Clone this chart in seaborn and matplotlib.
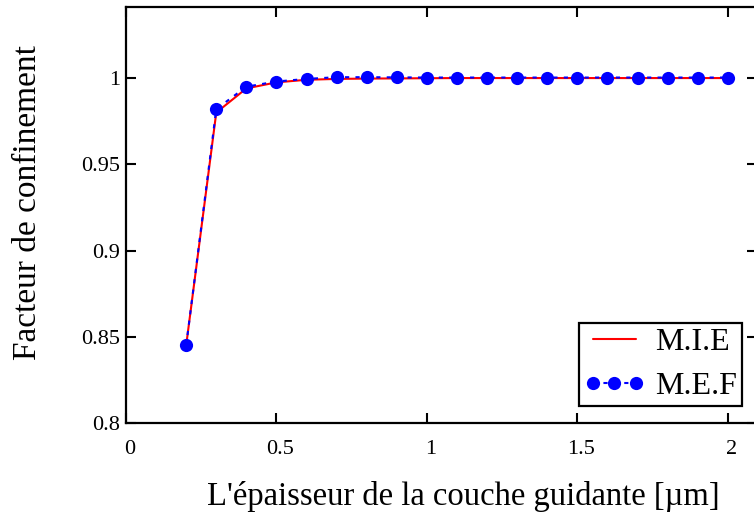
#!/usr/bin/env python3

import pandas as pd
import numpy as np
import matplotlib
matplotlib.use('Agg')
import matplotlib.pyplot as plt
import matplotlib.transforms as mtransforms
import seaborn as sns

# guiding layer thickness [um]
thickness = [0.2, 0.3, 0.4, 0.5, 0.6, 0.7, 0.8, 0.9, 1.0, 1.1,
             1.2, 1.3, 1.4, 1.5, 1.6, 1.7, 1.8, 1.9, 2.0]
# confinement factor, M.I.E method
conf_mie = [0.845, 0.980, 0.994, 0.9975, 0.999, 0.9995, 0.9997, 0.9998, 0.9999, 1.0,
            1.0, 1.0, 1.0, 1.0, 1.0, 1.0, 1.0, 1.0, 1.0]
# confinement factor, M.E.F method
conf_mef = [0.845, 0.982, 0.995, 0.998, 0.9995, 1.0005, 1.0005, 1.0004, 1.0003, 1.0003,
            1.0003, 1.0003, 1.0003, 1.0003, 1.0003, 1.0003, 1.0003, 1.0003, 1.0003]

xticks = [0, 0.5, 1, 1.5, 2]
xtick_labels = ['0', '0.5', '1', '1.5', '2']
yticks = [0.8, 0.85, 0.9, 0.95, 1.0]
ytick_labels = ['0.8', '0.85', '0.9', '0.95', '1']

sns.set_style('ticks')
plt.rcParams['font.family'] = ['Liberation Serif', 'DejaVu Serif']
plt.rcParams['text.color'] = 'black'
plt.rcParams['axes.labelcolor'] = 'black'

df = pd.DataFrame({'x': thickness, 'mie': conf_mie, 'mef': conf_mef})

fig = plt.figure(figsize=(7.54, 5.24), dpi=100)
ax = fig.add_axes([126 / 754, 1 - 423 / 524, 631 / 754, 416 / 524])

sns.lineplot(data=df, x='x', y='mie', color='red', linewidth=1.5,
             label='M.I.E', ax=ax)
sns.lineplot(data=df, x='x', y='mef', color='blue', linewidth=1.5,
             linestyle=(0, (2, 3)), marker='o', markersize=9.5,
             markeredgewidth=0, markeredgecolor='blue',
             label='M.E.F', ax=ax)

ax.set_xlim(0, 2.097)
ax.set_ylim(0.8, 1.0412)
ax.set_xticks(xticks)
ax.set_xticklabels(xtick_labels)
ax.set_yticks(yticks)
ax.set_yticklabels(ytick_labels)

for side in ['left', 'bottom', 'top', 'right']:
    ax.spines[side].set_visible(True)
    ax.spines[side].set_linewidth(1.6)
    ax.spines[side].set_color('black')

ax.tick_params(direction='in', length=7.5, width=1.5, labelsize=16,
               top=True, right=True, colors='black', labelcolor='black')
ax.tick_params(axis='x', pad=12)
ax.tick_params(axis='y', pad=4)

# x tick labels sit a few pixels right of their ticks in the original
shift = mtransforms.ScaledTranslation(4 / 100, 0, fig.dpi_scale_trans)
for lbl in ax.get_xticklabels():
    lbl.set_transform(lbl.get_transform() + shift)

ax.set_xlabel("L'épaisseur de la couche guidante [µm]", fontsize=23.5, color='black')
ax.set_ylabel('Facteur de confinement', fontsize=24, color='black')
ax.xaxis.set_label_coords(0.534, -0.139)
ax.yaxis.set_label_coords(-0.131, 0.531)

leg = ax.legend(loc='lower right', bbox_to_anchor=(0.976, 0.041),
                borderaxespad=0, fontsize=23, numpoints=3,
                handlelength=1.95, handletextpad=0.3, labelspacing=0.45,
                borderpad=0.15, fancybox=False, framealpha=1,
                edgecolor='black')
leg.get_frame().set_linewidth(1.6)
for t in leg.get_texts():
    t.set_color('black')

fig.savefig('out.png', dpi=100)
